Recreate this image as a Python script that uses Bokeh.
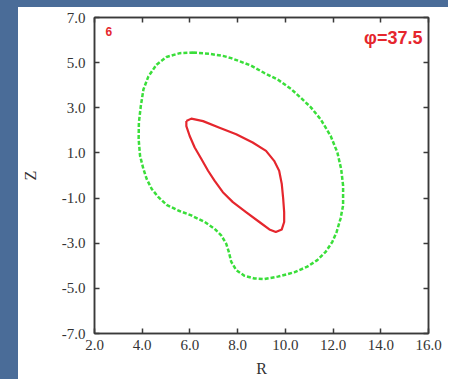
from bokeh.plotting import figure
from bokeh.models import (FixedTicker, PrintfTickFormatter, LinearAxis, Label, Range1d, Spacer,
                          CustomJSTickFormatter)
from bokeh.layouts import row, column
from bokeh.embed import file_html
from bokeh.resources import INLINE

# ---- data ----
x_ticks = [2.0, 4.0, 6.0, 8.0, 10.0, 12.0, 14.0, 16.0]
y_ticks = [-7.0, -5.0, -3.0, -1.0, 1.0, 3.0, 5.0, 7.0]

inner_R = [5.85, 6.06, 6.55, 7.24, 7.94, 8.63, 9.19, 9.53, 9.74, 9.85, 9.91, 9.95, 9.95,
           9.85, 9.60, 9.33, 8.91, 8.35, 7.80, 7.38, 7.03, 6.76, 6.48, 6.20, 5.99, 5.85, 5.85]
inner_Z = [2.41, 2.52, 2.41, 2.12, 1.83, 1.46, 1.09, 0.65, 0.21, -0.38, -1.04, -1.62, -2.06,
           -2.39, -2.50, -2.39, -2.06, -1.62, -1.18, -0.74, -0.23, 0.21, 0.73, 1.24, 1.75, 2.19, 2.41]

outer_R = [6.13, 6.83, 7.38, 7.73, 8.56, 9.12, 9.68, 10.23, 10.65, 11.06,
           11.48, 11.90, 12.18, 12.34, 12.42, 12.42, 12.31, 12.15, 11.97, 11.69,
           11.34, 10.92, 10.37, 9.68, 9.12, 8.70, 8.28, 7.94, 7.73, 7.63,
           7.52, 7.31, 7.03, 6.62, 6.06, 5.51, 5.02, 4.68, 4.40, 4.19,
           4.05, 3.91, 3.85, 3.86, 3.94, 4.05, 4.26, 4.60, 5.02, 5.58, 6.13]
outer_Z = [5.45, 5.39, 5.30, 5.20, 4.87, 4.54, 4.25, 3.84, 3.44, 3.03,
           2.49, 1.75, 1.02, 0.28, -0.45, -1.33, -1.92, -2.50, -2.94, -3.38,
           -3.75, -4.04, -4.29, -4.48, -4.59, -4.56, -4.44, -4.19, -3.82, -3.38,
           -3.02, -2.65, -2.36, -2.06, -1.77, -1.55, -1.30, -0.96, -0.60, -0.16,
           0.29, 0.87, 1.61, 2.34, 3.07, 3.81, 4.39, 4.91, 5.25, 5.42, 5.45]

panel_label = "6"
phi_label = "φ=37.5"

RED = "#e5262d"
GREEN = "#3ade3a"
AXIS = "#3a3a3a"
BG = "#4a6c98"

p = figure(width=430, height=372, x_range=Range1d(2, 16), y_range=Range1d(-7, 7),
           output_backend="svg", toolbar_location=None,
           min_border_left=74, min_border_right=20, min_border_top=10, min_border_bottom=44,
           x_axis_label="R", y_axis_label="Z")
p.xgrid.visible = False
p.ygrid.visible = False
p.outline_line_color = AXIS
p.outline_line_width = 1.5
p.background_fill_color = "white"
p.border_fill_color = "white"

p.line(outer_R, outer_Z, line_color=GREEN, line_width=2.5, line_dash="4 2", line_join="round")
p.line(inner_R, inner_Z, line_color=RED, line_width=2.2, line_join="round")

def style_axis(ax, ticks, labels=True):
    ax.ticker = FixedTicker(ticks=ticks)
    if labels:
        ax.formatter = PrintfTickFormatter(format="%.1f")
    else:
        ax.formatter = CustomJSTickFormatter(code="return ''")
    ax.major_tick_in = 5
    ax.major_tick_out = 0
    ax.minor_tick_in = 0
    ax.minor_tick_out = 0
    ax.major_tick_line_color = AXIS
    ax.major_tick_line_width = 1.5
    ax.axis_line_color = AXIS
    ax.axis_line_width = 1.5
    ax.major_label_text_font = "Liberation Serif"
    ax.major_label_text_font_size = "15px"
    ax.major_label_text_color = "#333333"
    ax.axis_label_text_font = "Liberation Serif"
    ax.axis_label_text_font_style = "normal"
    ax.axis_label_text_font_size = "16px"
    ax.axis_label_text_color = "#333333"

style_axis(p.xaxis[0], x_ticks)
p.xaxis[0].major_label_standoff = 6
p.xaxis[0].axis_label_standoff = 7
style_axis(p.yaxis[0], y_ticks)
p.yaxis[0].major_label_standoff = 9
p.yaxis[0].axis_label_standoff = 20

right = LinearAxis()
style_axis(right, y_ticks, labels=False)
right.major_label_standoff = 0
p.add_layout(right, "right")
top = LinearAxis()
style_axis(top, x_ticks, labels=False)
top.major_label_standoff = 0
p.add_layout(top, "above")

p.add_layout(Label(x=2.6, y=6.36, text=panel_label, text_color=RED, text_font="Liberation Sans",
                   text_font_style="bold", text_font_size="12px", text_align="center",
                   text_baseline="middle"))
p.add_layout(Label(x=15.75, y=6.1, text=phi_label, text_color=RED, text_font="Liberation Sans",
                   text_font_style="bold", text_font_size="18px", text_align="right",
                   text_baseline="middle"))

top_strip = Spacer(width=448, height=7, styles={"background-color": BG})
left_strip = Spacer(width=18, height=372, styles={"background-color": BG})
layout = column(top_strip, row(left_strip, p), spacing=0)

open("out.html", "w").write(file_html(layout, INLINE))
